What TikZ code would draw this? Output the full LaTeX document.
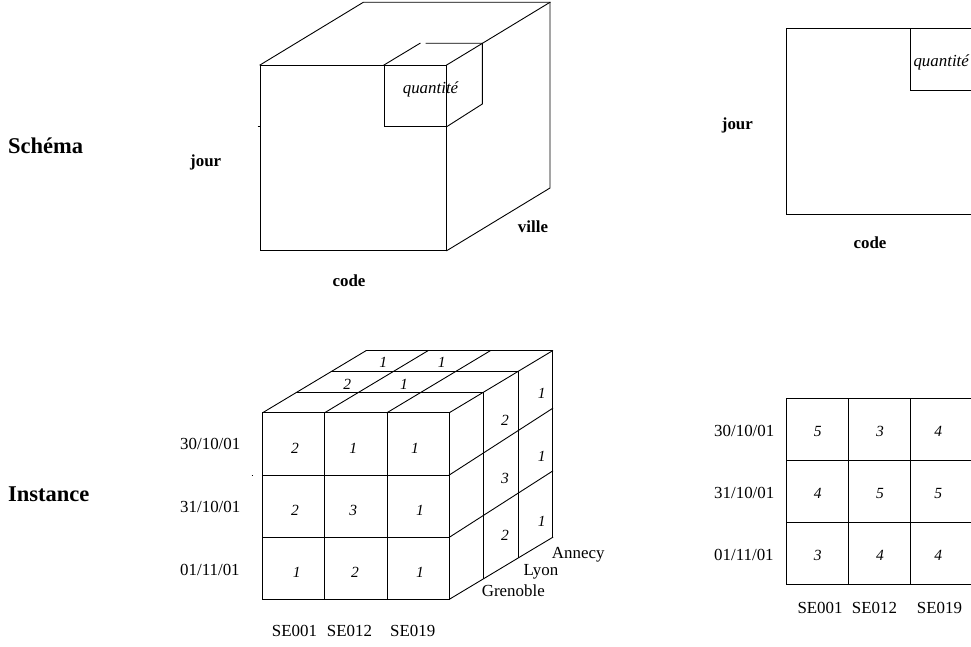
\documentclass[tikz,border=0pt]{standalone}
\usepackage{fontspec}
\setmainfont{Liberation Serif}
\begin{document}
\begin{tikzpicture}[x=1pt,y=-1pt,
  edge/.style={line width=0.9pt,line cap=rect},
  thick edge/.style={line width=1.5pt},
  lab/.style={font=\fontsize{16.9}{19}\selectfont,inner sep=0pt,anchor=base west},
  blab/.style={font=\fontsize{16.9}{19}\selectfont\bfseries,inner sep=0pt,anchor=base west},
  ilab/.style={font=\fontsize{16.9}{19}\selectfont\itshape,inner sep=0pt,anchor=base west},
  title/.style={font=\fontsize{22.5}{25}\selectfont\bfseries,inner sep=0pt,anchor=base west},
  num/.style={font=\fontsize{15.5}{17}\selectfont\itshape,inner sep=0pt}]
\useasboundingbox (0,0) rectangle (971,647);

% ---------- titles ----------
\node[title] (tschema) at (8,154) {Schéma};
\node[title] (tinst) at (8,501) {Instance};

% ---------- top cube ----------
\coordinate (fa) at (260,65);
\coordinate (fb) at (446.7,65);
\coordinate (fc) at (446.7,250.7);
\coordinate (fd) at (260,250.7);
\coordinate (ba) at (363.3,2.3);
\coordinate (bb) at (550,2.3);
\coordinate (bc) at (550,188);
\draw[edge] (fa) -- (fb) -- (fc) -- (fd) -- cycle;
\draw[edge] (fa) -- (ba) -- (bb) -- (bc) -- (fc);
\draw[edge] (fb) -- (bb);
% small cube
\coordinate (qa) at (384,65);
\coordinate (qd) at (384,126.7);
\coordinate (qc) at (446.7,126.7);
\coordinate (qba) at (420,43.3);
\coordinate (qgap) at (426,43.3);
\coordinate (qbb) at (482.3,43.3);
\coordinate (qbc) at (482.3,104);
\draw[edge] (qa) -- (qd) -- (qc);
\draw[edge] (qa) -- (qba);
\draw[edge] (qgap) -- (qbb) -- (qbc) -- (qc);
\coordinate (tk1) at (257.5,126.7);
\coordinate (tk2) at (260,126.7);
\draw[line width=0.9pt] (tk1) -- (tk2);
\node[ilab,anchor=base] (q1) at (430.5,93.3) {quantité};
\node[blab] (jour1) at (190,167) {jour};
\node[blab,anchor=base] (code1) at (349,286.7) {code};
\node[blab,anchor=base] (ville1) at (533,232.7) {ville};

% ---------- top right square ----------
\coordinate (ra) at (786,28.3);
\coordinate (rd) at (786,214.3);
\coordinate (rae) at (971,28.3);
\coordinate (rde) at (971,214.3);
\coordinate (ri1) at (910,28.3);
\coordinate (ri2) at (910,90.3);
\coordinate (ri3) at (971,90.3);
\draw[edge] (rae) -- (ra) -- (rd) -- (rde);
\draw[edge] (ri1) -- (ri2) -- (ri3);
\node[ilab] (q2) at (913.3,66.7) {quantité};
\node[blab] (jour2) at (721.7,130) {jour};
\node[blab,anchor=base] (code2) at (870,248.3) {code};

% ---------- bottom cube ----------
% front grid
\foreach \x in {262.7,324.7,387,449.3}
  \draw[edge] (\x,412.7) -- (\x,599.3);
\foreach \y in {412.7,475,537.3,599.3}
  \draw[edge] (262.7,\y) -- (449.3,\y);
% top face layers
\foreach \k in {1,2,3}
  \draw[edge] ({262.7+\k*34.43},{412.7-\k*20.67}) -- ({449.3+\k*34.43},{412.7-\k*20.67});
% top face depth lines
\foreach \x in {262.7,324.7,387,449.3}
  \draw[edge] (\x,412.7) -- ({\x+103.3},350.7);
% right face verticals
\foreach \k in {1,2,3}
  \draw[edge] ({449.3+\k*34.43},{412.7-\k*20.67}) -- ({449.3+\k*34.43},{599.3-\k*20.67});
% right face depth lines
\draw[edge] (449.3,475) -- (552.7,408.3);
\draw[edge] (449.3,537.3) -- (552.7,471);
\draw[edge] (449.3,599.3) -- (552.7,537.3);
\coordinate (dt1) at (251.5,475);
\coordinate (dt2) at (253,475);
\draw[line width=0.8pt] (dt1) -- (dt2);
% front numbers
\node[num] (c11) at (295,448.3) {2};
\node[num] (c12) at (353.3,448.3) {1};
\node[num] (c13) at (415,448.3) {1};
\node[num] (c21) at (295,510) {2};
\node[num] (c22) at (353.3,510) {3};
\node[num] (c23) at (420,510) {1};
\node[num] (c31) at (296.7,572.3) {1};
\node[num] (c32) at (355,572.3) {2};
\node[num] (c33) at (420,572.3) {1};
% top numbers
\node[num] (t1) at (383.3,362.7) {1};
\node[num] (t2) at (441.7,362.7) {1};
\node[num] (t3) at (347.3,384.3) {2};
\node[num] (t4) at (404,384.3) {1};
% right numbers
\node[num] (s1) at (505,420) {2};
\node[num] (s2) at (505,478.3) {3};
\node[num] (s3) at (505,535) {2};
\node[num] (s4) at (541.7,393.3) {1};
\node[num] (s5) at (541.7,456.7) {1};
\node[num] (s6) at (541.7,521.7) {1};
% labels
\node[lab] (an) at (551.7,558.3) {Annecy};
\node[lab] (ly) at (523.3,575) {Lyon};
\node[lab] (gr) at (481.7,596.7) {Grenoble};
\node[lab] (se1) at (271.7,636.7) {SE001};
\node[lab] (se2) at (326.7,636.7) {SE012};
\node[lab] (se3) at (390,636.7) {SE019};
\node[lab] (d1) at (180,449.3) {30/10/01};
\node[lab] (d2) at (180,512.7) {31/10/01};
\node[lab] (d3) at (180,575) {01/11/01};

% ---------- bottom right grid ----------
\draw[edge] (971,398.3) -- (786,398.3) -- (786,584.7) -- (971,584.7);
\draw[thick edge] (786,460.3) -- (971,460.3);
\draw[thick edge] (786,522.7) -- (971,522.7);
\foreach \x in {848.3,910.7}
  \draw[edge] (\x,398.3) -- (\x,584.7);
\node[num] (g11) at (817.7,431.7) {5};
\node[num] (g12) at (880,431.7) {3};
\node[num] (g13) at (938.3,431.7) {4};
\node[num] (g21) at (817.7,493.3) {4};
\node[num] (g22) at (880,493.3) {5};
\node[num] (g23) at (938.3,493.3) {5};
\node[num] (g31) at (817.7,555) {3};
\node[num] (g32) at (880,555) {4};
\node[num] (g33) at (938.3,555) {4};
\node[lab] (e1) at (714,436.7) {30/10/01};
\node[lab] (e2) at (714,498.3) {31/10/01};
\node[lab] (e3) at (714,560) {01/11/01};
\node[lab] (f1) at (797.3,613.3) {SE001};
\node[lab] (f2) at (851.7,613.3) {SE012};
\node[lab] (f3) at (916.7,613.3) {SE019};
\end{tikzpicture}
\end{document}
